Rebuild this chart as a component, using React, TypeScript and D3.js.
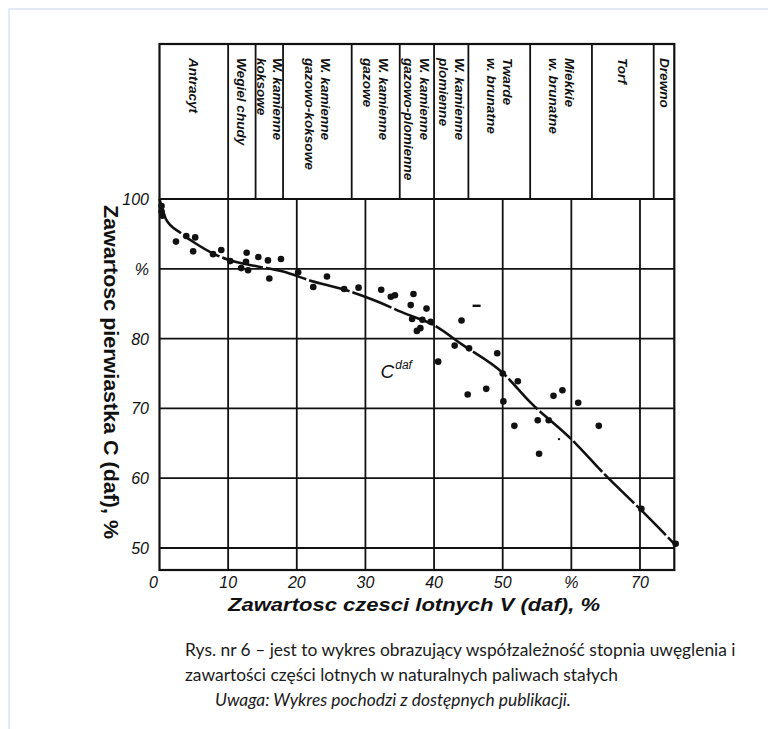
import React, { useEffect, useRef } from 'react';
import * as d3 from 'd3';

const W = 768;
const H = 729;

// axis ticks
const xTicks = [0, 10, 20, 30, 40, 50, 60, 70];
const xTickLabels = ['0', '10', '20', '30', '40', '50', '%', '70'];
const yTicks = [100, 90, 80, 70, 60, 50];
const yTickLabels = ['100', '%', '80', '70', '60', '50'];

// fuel classes in the header strip (edges in % volatile matter)
const bandEdges = [0, 10, 14, 18, 28, 35, 40, 45, 54, 63, 72, 75];
const bandLabels = [
  ['Antracyt'],
  ['Wegiel chudy'],
  ['W. kamienne', 'koksowe'],
  ['W. kamienne', 'gazowo-koksowe'],
  ['W. kamienne', 'gazowe'],
  ['W. kamienne', 'gazowo-plomienne'],
  ['W. kamienne', 'plomienne'],
  ['Twarde', 'w. brunatne'],
  ['Miekkie', 'w. brunatne'],
  ['Torf'],
  ['Drewno'],
];

// measured samples: volatile matter V (daf) and carbon C (daf)
const sampleV = [
  0.3, 0.3, 0.4, 2.4, 3.9, 5.2, 4.9, 7.8, 9.0, 10.3, 12.7, 12.6, 11.9, 12.9,
  14.4, 15.8, 16.0, 17.7, 20.2, 22.4, 24.4, 26.9, 29.0, 32.3, 33.7, 34.3, 37.0,
  36.6, 38.9, 36.8, 38.3, 39.5, 37.5, 38.0, 44.0, 43.0, 45.1, 49.2, 40.6, 50.0,
  52.2, 44.9, 47.6, 50.1, 57.4, 58.7, 61.0, 51.7, 55.1, 56.7, 55.3, 64.0, 70.2,
  75.2,
];
const sampleC = [
  99.0, 98.2, 97.6, 93.9, 94.7, 94.5, 92.5, 92.1, 92.7, 91.1, 92.3, 91.0, 90.1,
  89.8, 91.7, 91.2, 88.6, 91.4, 89.5, 87.4, 88.9, 87.1, 87.3, 87.0, 86.0, 86.2,
  86.4, 84.8, 84.3, 82.8, 82.7, 82.4, 81.1, 81.5, 82.6, 79.0, 78.6, 77.9, 76.7,
  75.0, 73.9, 72.0, 72.8, 71.0, 71.8, 72.6, 70.8, 67.5, 68.3, 68.3, 63.5, 67.5,
  55.6, 50.6,
];
const dashV = [46.2];
const dashC = [84.7];
const specV = [58.2];
const specC = [65.6];

// trend curve C(daf)
const curveV = [0, 1, 3, 5, 8, 10, 14, 18, 22, 27, 31, 36, 40, 44, 50, 54, 60, 65, 70, 75];
const curveC = [100, 97, 95.2, 93.8, 92.1, 91.3, 90.4, 89.6, 88.3, 87.0, 85.6, 83.5, 81.9, 79.2, 75.1, 70.9, 65.6, 60.4, 55.6, 50.6];

const captionLines = [
  'Rys. nr 6 – jest to wykres obrazujący współzależność stopnia uwęglenia i',
  'zawartości części lotnych w naturalnych paliwach stałych',
];
const captionNote = 'Uwaga: Wykres pochodzi z dostępnych publikacji.';

const App = () => {
  const svgRef = useRef(null);

  useEffect(() => {
    const svg = d3.select(svgRef.current);
    svg.selectAll('*').remove();

    const x = d3.scaleLinear().domain([0, 75]).range([159.5, 674.3]);
    const y = d3.scaleLinear().domain([50, 100]).range([548, 199]);
    const top = 44;
    const bottom = 570;
    const ink = '#111';
    const gw = 1.8;

    // page frame
    svg
      .append('rect')
      .attr('x', 9)
      .attr('y', 9)
      .attr('width', W)
      .attr('height', H)
      .attr('fill', 'none')
      .attr('stroke', '#d9e4f2')
      .attr('stroke-width', 1.5);

    const g = svg.append('g');

    // horizontal grid
    g.selectAll('line.h')
      .data(yTicks)
      .enter()
      .append('line')
      .attr('x1', x(0))
      .attr('x2', x(75))
      .attr('y1', (d) => y(d))
      .attr('y2', (d) => y(d))
      .attr('stroke', ink)
      .attr('stroke-width', gw);

    // vertical grid (plot part)
    g.selectAll('line.v')
      .data(xTicks.slice(1))
      .enter()
      .append('line')
      .attr('x1', (d) => x(d))
      .attr('x2', (d) => x(d))
      .attr('y1', y(100))
      .attr('y2', bottom)
      .attr('stroke', ink)
      .attr('stroke-width', gw);

    // header dividers
    g.selectAll('line.b')
      .data(bandEdges.slice(1, -1))
      .enter()
      .append('line')
      .attr('x1', (d) => x(d))
      .attr('x2', (d) => x(d))
      .attr('y1', top)
      .attr('y2', y(100))
      .attr('stroke', ink)
      .attr('stroke-width', gw);

    // outer frame
    g.append('rect')
      .attr('x', x(0))
      .attr('y', top)
      .attr('width', x(75) - x(0))
      .attr('height', bottom - top)
      .attr('fill', 'none')
      .attr('stroke', ink)
      .attr('stroke-width', 2.2);

    // header labels
    bandLabels.forEach((lines, i) => {
      const cx = (x(bandEdges[i]) + x(bandEdges[i + 1])) / 2;
      const n = lines.length;
      lines.forEach((t, j) => {
        const off = (((n - 1) / 2) - j) * 16;
        g.append('text')
          .attr('transform', `translate(${cx + off},58) rotate(90)`)
          .attr('dominant-baseline', 'central')
          .attr('font-family', 'Liberation Sans, Arial, sans-serif')
          .attr('font-size', 13.6)
          .attr('font-weight', 'bold')
          .attr('font-style', 'italic')
          .attr('fill', ink)
          .text(t);
      });
    });

    // trend curve
    const line = d3
      .line()
      .x((d) => x(d[0]))
      .y((d) => y(d[1]))
      .curve(d3.curveMonotoneX);
    g.append('path')
      .attr('d', line(curveV.map((v, i) => [v, curveC[i]])))
      .attr('fill', 'none')
      .attr('stroke', ink)
      .attr('stroke-width', 2.6)
      .attr('stroke-dasharray', '42 3');

    // samples
    g.selectAll('circle.s')
      .data(sampleV.map((v, i) => [v, sampleC[i]]))
      .enter()
      .append('circle')
      .attr('cx', (d) => x(d[0]))
      .attr('cy', (d) => y(d[1]))
      .attr('r', 3.3)
      .attr('fill', ink);

    g.selectAll('circle.p')
      .data(specV.map((v, i) => [v, specC[i]]))
      .enter()
      .append('circle')
      .attr('cx', (d) => x(d[0]))
      .attr('cy', (d) => y(d[1]))
      .attr('r', 1.2)
      .attr('fill', ink);

    g.selectAll('rect.d')
      .data(dashV.map((v, i) => [v, dashC[i]]))
      .enter()
      .append('rect')
      .attr('x', (d) => x(d[0]) - 4)
      .attr('y', (d) => y(d[1]) - 1.2)
      .attr('width', 8)
      .attr('height', 2.4)
      .attr('fill', ink);

    // C^daf label
    const cl = g
      .append('text')
      .attr('x', x(32.2))
      .attr('y', y(74.3))
      .attr('font-family', 'Liberation Sans, Arial, sans-serif')
      .attr('font-style', 'italic')
      .attr('fill', ink);
    cl.append('tspan').attr('font-size', 19).text('C');
    cl.append('tspan').attr('font-size', 12).attr('dy', -9).attr('dx', 1).text('daf');

    // tick labels
    g.selectAll('text.xt')
      .data(xTicks)
      .enter()
      .append('text')
      .attr('x', (d) => x(d) - (d === 0 ? 6 : 0))
      .attr('y', 588)
      .attr('text-anchor', 'middle')
      .attr('font-family', 'Liberation Sans, Arial, sans-serif')
      .attr('font-size', 16)
      .attr('font-style', 'italic')
      .attr('fill', ink)
      .text((d, i) => xTickLabels[i]);

    g.selectAll('text.yt')
      .data(yTicks)
      .enter()
      .append('text')
      .attr('x', 149)
      .attr('y', (d) => y(d) + 6)
      .attr('text-anchor', 'end')
      .attr('font-family', 'Liberation Sans, Arial, sans-serif')
      .attr('font-size', 16)
      .attr('font-style', 'italic')
      .attr('fill', ink)
      .text((d, i) => yTickLabels[i]);

    // axis titles
    g.append('text')
      .attr('transform', 'translate(111,372) rotate(90)')
      .attr('text-anchor', 'middle')
      .attr('dominant-baseline', 'central')
      .attr('font-family', 'Liberation Sans, Arial, sans-serif')
      .attr('font-size', 20)
      .attr('font-weight', 'bold')
      .attr('textLength', 334)
      .attr('lengthAdjust', 'spacingAndGlyphs')
      .attr('fill', ink)
      .text('Zawartosc pierwiastka C (daf), %');

    g.append('text')
      .attr('x', 414)
      .attr('y', 611)
      .attr('text-anchor', 'middle')
      .attr('font-family', 'Liberation Sans, Arial, sans-serif')
      .attr('font-size', 18)
      .attr('font-weight', 'bold')
      .attr('font-style', 'italic')
      .attr('textLength', 372)
      .attr('lengthAdjust', 'spacingAndGlyphs')
      .attr('fill', ink)
      .text('Zawartosc czesci lotnych V (daf), %');

    // caption
    captionLines.forEach((t, i) => {
      svg
        .append('text')
        .attr('x', 185)
        .attr('y', 656 + i * 25)
        .attr('font-family', 'Lato, Open Sans, sans-serif')
        .attr('font-size', 17.4)
        .attr('fill', '#1a1a1a')
        .text(t);
    });
    svg
      .append('text')
      .attr('x', 393)
      .attr('y', 706)
      .attr('text-anchor', 'middle')
      .attr('font-family', 'Lato, Open Sans, sans-serif')
      .attr('font-size', 17.4)
      .attr('font-style', 'italic')
      .attr('fill', '#1a1a1a')
      .text(captionNote);
  }, []);

  return (
    <svg
      ref={svgRef}
      width={W}
      height={H}
      style={{ position: 'absolute', left: 0, top: 0, background: '#fff' }}
    ></svg>
  );
};

export default App;
